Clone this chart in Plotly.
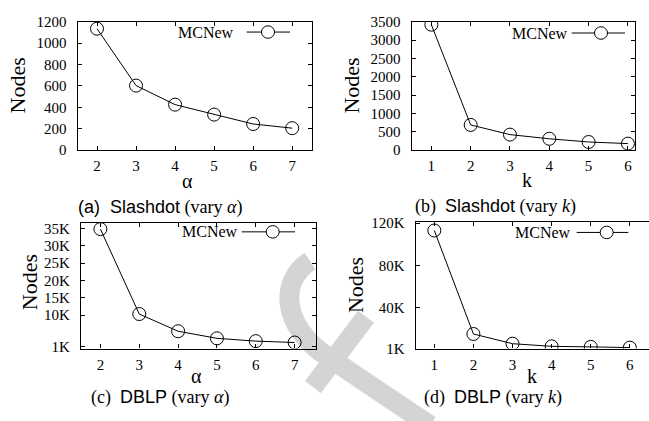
import plotly.graph_objects as go

W, H = 649, 421

# ---------------- data ----------------
alpha_vals = [2, 3, 4, 5, 6, 7]
k_vals = [1, 2, 3, 4, 5, 6]
slashdot_alpha = [1135, 603, 425, 332, 244, 205]
slashdot_k = [3420, 686, 422, 308, 221, 177]
dblp_alpha = [34800, 10300, 5350, 3300, 2500, 2100]
dblp_k = [113000, 14800, 5600, 3100, 2600, 1900]

series_name = "MCNew"
y_ticks_a = [0, 200, 400, 600, 800, 1000, 1200]
y_ticks_b = [0, 500, 1000, 1500, 2000, 2500, 3000, 3500]
y_ticks_c = [1000, 10000, 15000, 20000, 25000, 30000, 35000]
y_text_c = ["1K", "10K", "15K", "20K", "25K", "30K", "35K"]
y_ticks_d = [1000, 40000, 80000, 120000]
y_text_d = ["1K", "40K", "80K", "120K"]


def px(x):
    return x / W


def py(y):
    return 1 - y / H


SERIF = "Liberation Serif"
SANS = "Liberation Sans"

fig = go.Figure()

panels = [
    ("x", "y", alpha_vals, slashdot_alpha, (77.5, 311.7, 14.3, 147.7), [1.5, 7.5], [0, 1200],
     y_ticks_a, [str(v) for v in y_ticks_a], alpha_vals),
    ("x2", "y2", k_vals, slashdot_k, (411.7, 635, 14.3, 147.7), [0.5, 6.18], [0, 3500],
     y_ticks_b, [str(v) for v in y_ticks_b], k_vals),
    ("x3", "y3", alpha_vals, dblp_alpha, (81, 316, 223.3, 354), [1.5, 7.55], [360, 36600],
     y_ticks_c, y_text_c, alpha_vals),
    ("x4", "y4", k_vals, dblp_k, (415.7, 649, 222.5, 354), [0.524, 6.49], [1000, 121000],
     y_ticks_d, y_text_d, k_vals),
]

layout_axes = {}
for i, (xa, ya, xd, yd, dom, xr, yr, ytv, ytt, xtv) in enumerate(panels):
    fig.add_trace(go.Scatter(
        x=xd, y=yd, xaxis=xa, yaxis=ya, mode="lines+markers",
        line=dict(color="black", width=1),
        marker=dict(symbol="circle-open", size=13, color="black", line=dict(width=1, color="black")),
        showlegend=False, name=series_name,
    ))
    l, r, t, b = dom
    xname = "xaxis" if xa == "x" else "xaxis" + xa[1:]
    yname = "yaxis" if ya == "y" else "yaxis" + ya[1:]
    common = dict(showline=True, linecolor="black", linewidth=1.2, ticks="inside", ticklen=4,
                  tickwidth=1, tickcolor="black", showgrid=False, zeroline=False,
                  tickfont=dict(family=SERIF, size=15, color="black"))
    layout_axes[xname] = dict(common, domain=[px(l), px(r)], range=xr, anchor=ya,
                              tickvals=xtv, mirror="allticks", ticklabelstandoff=2)
    layout_axes[yname] = dict(common, domain=[py(b), py(t)], range=yr, anchor=xa,
                              tickvals=ytv, ticktext=ytt,
                              mirror="allticks" if i != 3 else False,
                              ticklabelstandoff=7)

fig.update_layout(**layout_axes)

annotations = []
shapes = []


def ann(text, x, y, size, family=SERIF, angle=0):
    annotations.append(dict(text=text, x=px(x), y=py(y), xref="paper", yref="paper",
                            showarrow=False, xanchor="center", yanchor="middle",
                            textangle=angle, font=dict(family=family, size=size, color="black")))


# y-axis titles
for (x, y) in [(17.5, 81), (351.7, 81), (29, 285), (355, 288)]:
    ann("Nodes", x, y, 22, angle=-90)

# x-axis titles
ann("α", 187, 180, 20)
ann("k", 526.7, 179, 20)
ann("α", 196.7, 383, 20)
ann("k", 531.7, 383, 20)

# captions
ann(f"<span style='font-family:{SANS}'>(a)  Slashdot</span> (vary <i>α</i>)", 160.5, 207, 18)
ann(f"(b)  <span style='font-family:{SANS}'>Slashdot</span> (vary <i>k</i>)", 495, 206, 18)
ann(f"(c)  <span style='font-family:{SANS}'>DBLP</span> (vary <i>α</i>)", 160, 405, 18)
ann(f"(d)  <span style='font-family:{SANS}'>DBLP</span> (vary <i>k</i>)", 493, 405, 18)

# legend samples (text + line + open circle), drawn per panel
legends = [(206, 25, 246.7, 290, 268), (540, 26, 571.7, 625, 601),
           (210, 232.7, 241.7, 295, 272.7), (543, 233.3, 576.7, 628.3, 606.7)]
for (tx, ty, lx0, lx1, cx) in legends:
    ann(series_name, tx, ty, 16)
    shapes.append(dict(type="line", xref="paper", yref="paper", x0=px(lx0), x1=px(lx1),
                       y0=py(ty), y1=py(ty), line=dict(color="black", width=1)))
    shapes.append(dict(type="circle", xref="paper", yref="paper", x0=px(cx - 6.5), x1=px(cx + 6.5),
                       y0=py(ty + 6.5), y1=py(ty - 6.5), line=dict(color="black", width=1),
                       fillcolor="white"))


# watermark (light gray strokes behind everything)
def P(x, y):
    return f"{px(x):.5f},{py(y):.5f}"


arc_path = f"M {P(310,263)} C {P(278,285)} {P(283,332)} {P(327,362)} L {P(430,434)}"
shapes.append(dict(type="path", xref="paper", yref="paper", path=arc_path, layer="below",
                   line=dict(color="rgb(212,212,212)", width=20)))
cross_path = f"M {P(366,321)} L {P(313,394)}"
shapes.append(dict(type="path", xref="paper", yref="paper", path=cross_path, layer="below",
                   line=dict(color="rgb(212,212,212)", width=20)))

fig.update_layout(width=W, height=H, margin=dict(l=0, r=0, t=0, b=0),
                  paper_bgcolor="white", plot_bgcolor="rgba(0,0,0,0)",
                  annotations=annotations, shapes=shapes, showlegend=False)

fig.write_html("out.html")
